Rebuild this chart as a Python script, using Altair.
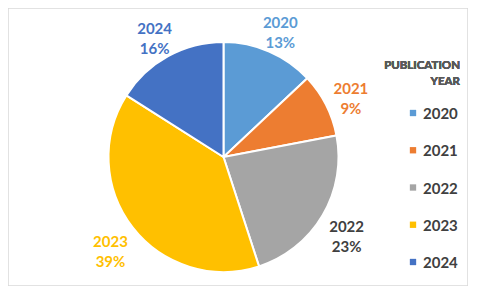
import altair as alt
import pandas as pd

years = ["2020", "2021", "2022", "2023", "2024"]
shares = [13, 9, 23, 39, 16]
slice_colors = ["#5B9BD5", "#ED7D31", "#A5A5A5", "#FFC000", "#4472C4"]
legend_title = ["PUBLICATION", "YEAR"]

df = pd.DataFrame({
    "year": years,
    "share": shares,
    "label": [f"{y}\n{s}%" for y, s in zip(years, shares)],
})

color = alt.Color("year:N", scale=alt.Scale(domain=years, range=slice_colors), legend=None)
cx, cy = 215.5, 149

base = alt.Chart(df).encode(
    theta=alt.Theta("share:Q", stack=True),
    order=alt.Order("year:N", sort="ascending"),
)

arcs = base.mark_arc(outerRadius=115, stroke="white", strokeWidth=2).encode(
    color=color, x=alt.value(cx), y=alt.value(cy)
)

labels = base.mark_text(
    radius=143, dy=-3, font="Lato", fontSize=15, fontWeight="bold",
    lineBreak="\n", lineHeight=20, align="center", baseline="middle",
).encode(
    text="label:N",
    x=alt.value(cx), y=alt.value(cy),
    color=alt.condition(alt.datum.year == "2022", alt.value("#404040"), color),
)

ly = alt.Y("year:N", scale=alt.Scale(type="point", range=[105, 254], padding=0), axis=None, sort=years)

leg_sq = alt.Chart(df).mark_square(size=40, opacity=1).encode(
    x=alt.value(405), y=ly, color=color
)
leg_tx = alt.Chart(df).mark_text(
    font="Lato", fontSize=15, fontWeight="bold", color="#404040",
    align="left", baseline="middle", dy=1,
).encode(x=alt.value(415), y=ly, text="year:N")

title = alt.Chart(df).mark_text(
    font="Lato", fontSize=11.5, fontWeight="bold", color="#595959",
    align="right", baseline="middle", lineHeight=16,
).encode(x=alt.value(452), y=alt.value(58), text=alt.value(legend_title))

chart = alt.layer(arcs, labels, leg_sq, leg_tx, title).properties(
    width=460, height=278, padding=0, autosize="none", background="white"
).configure_view(stroke="#D9D9D9", strokeWidth=1.5)

chart.save("out.html", embed_options={"renderer": "svg", "actions": False})
